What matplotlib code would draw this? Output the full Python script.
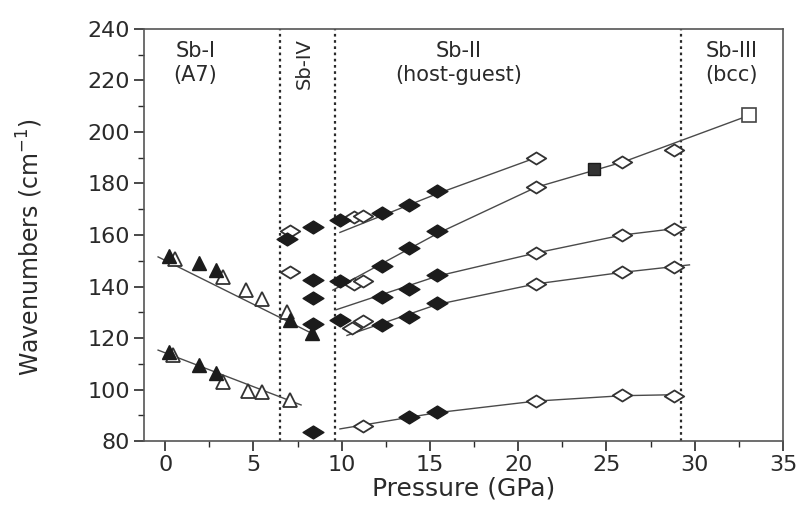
import numpy as np
import matplotlib
matplotlib.use("Agg")
import matplotlib.pyplot as plt
from matplotlib.path import Path

plt.rcParams['font.family'] = ['DejaVu Sans']

# ---------------- data ----------------
# Sb-I (A7) upper mode
sbI_up_filled_x = [0.2, 1.9, 2.9, 7.1, 8.3]
sbI_up_filled_y = [152.0, 149.0, 146.5, 127.0, 122.0]
sbI_up_open_x = [0.55, 3.3, 4.6, 5.5, 6.9]
sbI_up_open_y = [150.5, 143.5, 138.5, 135.0, 130.0]
# Sb-I (A7) lower mode
sbI_lo_filled_x = [0.2, 1.9, 2.9]
sbI_lo_filled_y = [114.5, 109.5, 106.5]
sbI_lo_open_x = [0.45, 3.3, 4.7, 5.5, 7.05]
sbI_lo_open_y = [113.5, 103.0, 99.5, 99.0, 96.0]

# Sb-IV
sbIV_filled_x = [6.9, 8.4, 8.4, 8.4, 8.4, 8.4]
sbIV_filled_y = [158.5, 163.0, 142.5, 135.5, 125.5, 83.5]
sbIV_open_x = [7.1, 7.1]
sbIV_open_y = [161.5, 145.5]

# Sb-II (host-guest) branches: filled / open diamonds
s1_filled_x = [9.9, 12.3, 13.8, 15.4]
s1_filled_y = [166.0, 168.5, 171.5, 177.0]
s1_open_x = [10.7, 11.2, 21.0]
s1_open_y = [167.0, 167.5, 190.0]

s2_filled_x = [9.9, 12.3, 13.8, 15.4]
s2_filled_y = [142.0, 148.0, 155.0, 161.5]
s2_open_x = [10.7, 11.2, 21.0, 25.9, 28.8]
s2_open_y = [141.0, 142.0, 178.5, 188.5, 193.0]

s3_filled_x = [12.3, 13.8, 15.4]
s3_filled_y = [136.0, 139.0, 144.5]
s3_open_x = [21.0, 25.9, 28.8]
s3_open_y = [153.0, 160.0, 162.5]

s4_filled_x = [9.9, 12.3, 13.8, 15.4]
s4_filled_y = [127.0, 125.0, 128.0, 133.5]
s4_open_x = [10.6, 11.2, 21.0, 25.9, 28.8]
s4_open_y = [124.0, 126.5, 141.0, 145.5, 147.5]

s5_filled_x = [13.8, 15.4]
s5_filled_y = [89.3, 91.3]
s5_open_x = [11.2, 21.0, 25.9, 28.8]
s5_open_y = [86.0, 95.5, 98.0, 97.5]

# squares (Sb-III)
sq_filled_x = [24.3]
sq_filled_y = [185.5]
sq_open_x = [33.1]
sq_open_y = [206.5]

# guide-to-the-eye lines (nodes)
fit_lines = {
    'sbI_up': ([-0.4, 8.4], [151.5, 121.5]),
    'sbI_lo': ([-0.4, 7.7], [115.3, 94.0]),
    's1': ([9.9, 15.4, 21.0], [161.0, 176.0, 190.0]),
    's2': ([9.5, 15.4, 21.0, 26.0, 33.1], [138.6, 160.5, 178.5, 188.5, 206.5]),
    's3': ([9.7, 15.4, 21.0, 25.9, 29.5], [131.0, 144.0, 153.0, 160.0, 163.0]),
    's4': ([10.3, 15.4, 21.0, 25.9, 29.7], [121.0, 133.0, 141.0, 145.5, 148.4]),
    's5': ([9.9, 15.4, 21.0, 25.9, 29.0], [84.7, 91.0, 95.5, 97.6, 98.0]),
}

phase_bounds = [6.5, 9.6, 29.2]

xticks = [0, 5, 10, 15, 20, 25, 30, 35]
yticks = [80, 100, 120, 140, 160, 180, 200, 220, 240]

# ---------------- style ----------------
DARK = '#1c1c1c'
LINE = '#4a4a4a'
TXT = '#2a2a2a'
wide_diamond = Path([(-1, 0), (0, 0.62), (1, 0), (0, -0.62), (-1, 0)],
                    [Path.MOVETO, Path.LINETO, Path.LINETO, Path.LINETO, Path.CLOSEPOLY])

fig = plt.figure(figsize=(8.07, 5.05), dpi=100)
ax = fig.add_axes([0.1784, 0.1267, 0.7919, 0.8159])

for key, (lx, ly) in fit_lines.items():
    ax.plot(lx, ly, color=LINE, lw=1.0, zorder=2)

for xb in phase_bounds:
    ax.axvline(xb, color='#2a2a2a', lw=1.6, ls=(0, (1.2, 1.6)), zorder=1)

tri_kw_f = dict(ls='none', marker='^', ms=10, mfc=DARK, mec=DARK, zorder=4)
tri_kw_o = dict(ls='none', marker='^', ms=10, mfc='white', mec='#333333', mew=1.3, zorder=3)
dia_kw_f = dict(ls='none', marker=wide_diamond, ms=15, mfc=DARK, mec=DARK, zorder=4)
dia_kw_o = dict(ls='none', marker=wide_diamond, ms=14, mfc='white', mec='#333333', mew=1.3, zorder=3)

ax.plot(sbI_up_open_x, sbI_up_open_y, **tri_kw_o)
ax.plot(sbI_up_filled_x, sbI_up_filled_y, **tri_kw_f)
ax.plot(sbI_lo_open_x, sbI_lo_open_y, **tri_kw_o)
ax.plot(sbI_lo_filled_x, sbI_lo_filled_y, **tri_kw_f)

ax.plot(sbIV_open_x, sbIV_open_y, **dia_kw_o)
ax.plot(sbIV_filled_x, sbIV_filled_y, **dia_kw_f)

for fx, fy, ox, oy in [(s1_filled_x, s1_filled_y, s1_open_x, s1_open_y),
                       (s2_filled_x, s2_filled_y, s2_open_x, s2_open_y),
                       (s3_filled_x, s3_filled_y, s3_open_x, s3_open_y),
                       (s4_filled_x, s4_filled_y, s4_open_x, s4_open_y),
                       (s5_filled_x, s5_filled_y, s5_open_x, s5_open_y)]:
    ax.plot(ox, oy, **dia_kw_o)
    ax.plot(fx, fy, **dia_kw_f)

ax.plot(sq_filled_x, sq_filled_y, ls='none', marker='s', ms=9, mfc='#333333', mec=DARK, zorder=4)
ax.plot(sq_open_x, sq_open_y, ls='none', marker='s', ms=9.5, mfc='white', mec='#444444', mew=1.2, zorder=4)

# phase labels
tkw = dict(fontsize=15, color=TXT, ha='center', va='top', linespacing=1.25)
ax.text(1.7, 235.5, 'Sb-I\n(A7)', **tkw)
ax.text(16.6, 235.5, 'Sb-II\n(host-guest)', **tkw)
ax.text(32.1, 235.5, 'Sb-III\n(bcc)', **tkw)
ax.text(7.9, 236.5, 'Sb-IV', fontsize=14, color=TXT, ha='center', va='top', rotation=90)

ax.set_xlim(-1.2, 35.0)
ax.set_ylim(80, 240)
ax.set_xticks(xticks)
ax.set_yticks(yticks)
ax.set_xticks(np.arange(2.5, 35, 5), minor=True)
ax.set_yticks(np.arange(90, 240, 20), minor=True)
ax.tick_params(which='major', direction='out', length=7, width=1.2, labelsize=16,
               colors=TXT, pad=3)
ax.tick_params(which='minor', direction='out', length=4, width=1.0, colors=TXT)
for s in ax.spines.values():
    s.set_color('#555555')
    s.set_linewidth(1.2)

ax.set_xlabel('Pressure (GPa)', fontsize=18, color=TXT)
ax.set_ylabel('Wavenumbers (cm$^{-1}$)', fontsize=17, color=TXT)
ax.xaxis.set_label_coords(0.5, -0.085)
ax.yaxis.set_label_coords(-0.155, 0.47)

fig.savefig('out.png', dpi=100, facecolor='white')
